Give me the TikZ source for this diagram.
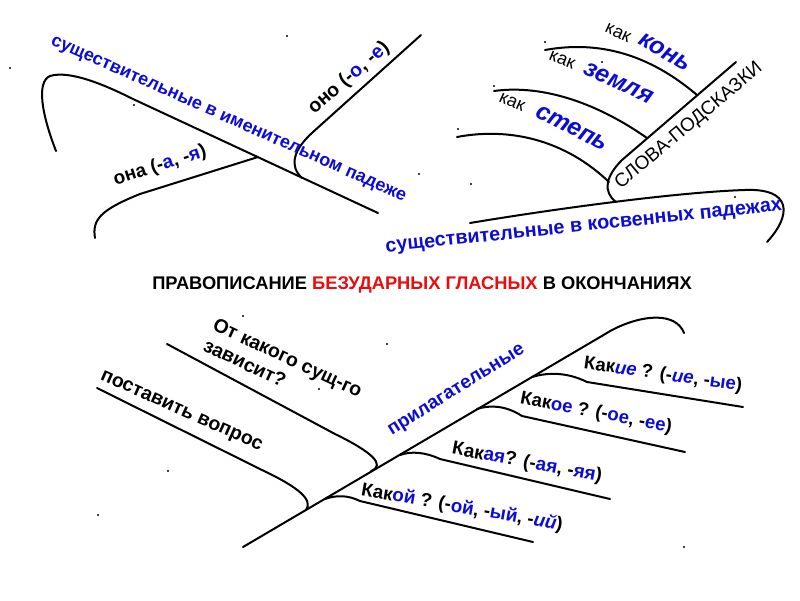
\documentclass[tikz,border=0pt]{standalone}
\usepackage{fontspec}
\setmainfont{Liberation Sans}
\definecolor{tblue}{RGB}{12,12,215}
\definecolor{tred}{RGB}{232,12,12}
\tikzset{
  bone/.style={line width=2pt, line cap=round, line join=round},
  txt/.style={inner sep=0pt, font=\bfseries\fontsize{19}{23}\selectfont},
  bluetxt/.style={txt, text=tblue},
  kak/.style={inner sep=0pt, font=\fontsize{18}{20}\selectfont},
  word/.style={inner sep=0pt, text=tblue, font=\bfseries\itshape\fontsize{24.5}{26}\selectfont},
  hint/.style={inner sep=0pt, font=\fontsize{19}{21}\selectfont},
  titletxt/.style={inner sep=0pt, font=\bfseries\fontsize{18.3}{20}\selectfont},
  speck/.style={fill=black}
}
\newcommand{\bl}[1]{\textcolor{tblue}{#1}}
\begin{document}
\begin{tikzpicture}[x=1pt,y=-1pt]
\useasboundingbox (0,0) rectangle (800,600);
\fill[white] (0,0) rectangle (800,600);

% ---------- top left: nominative ----------
\coordinate (nStart) at (56,151);
\coordinate (nBend) at (133,99);
\coordinate (nEnd) at (378,213);
\coordinate (jOna) at (258,157);
\coordinate (jOno) at (302,178);
\coordinate (onaStart) at (95,238);
\coordinate (onaBend) at (140,194);
\coordinate (onoBend) at (313,132);
\coordinate (onoEnd) at (421,35);
\draw[bone] (nStart) .. controls (42,115) and (36,82) .. (50,76) .. controls (70,70) and (105,85) .. (nBend) -- (nEnd);
\draw[bone] (onaStart) .. controls (92,220) and (100,210) .. (onaBend) -- (jOna);
\draw[bone] (jOno) .. controls (289,166) and (293,150) .. (onoBend) -- (onoEnd);
\node[bluetxt, font=\bfseries\fontsize{18}{22}\selectfont, rotate=-24] (nom) at (228,120) {существительные в именительном падеже};
\node[txt, rotate=18] (ona) at (160,166) {она (-\bl{а}, -\bl{я})};
\node[txt, font=\bfseries\fontsize{19.5}{23}\selectfont, rotate=41] (ono) at (349,78) {оно (-\bl{о}, -\bl{е})};

% ---------- top right: oblique cases ----------
\coordinate (kStart) at (470,223);
\coordinate (jSlova) at (616,202);
\coordinate (kTop) at (745,190);
\coordinate (kEnd) at (767,242);
\coordinate (sBend) at (622,160);
\coordinate (sEnd) at (736,62);
\coordinate (jSt) at (609,182);
\coordinate (jZe) at (647,138);
\coordinate (jKo) at (697,95);
\coordinate (stStart) at (457,137);
\coordinate (zeStart) at (494,91);
\coordinate (koStart) at (545,50);
\draw[bone] (kStart) .. controls (560,208) and (680,192) .. (kTop) .. controls (792,188) and (792,215) .. (kEnd);
\draw[bone] (jSlova) .. controls (603,192) and (605,177) .. (sBend) -- (sEnd);
\draw[bone] (stStart) .. controls (510,127) and (565,140) .. (jSt);
\draw[bone] (zeStart) .. controls (545,84) and (600,105) .. (jZe);
\draw[bone] (koStart) .. controls (600,40) and (650,55) .. (jKo);
\node[bluetxt, font=\bfseries\fontsize{19.8}{23}\selectfont, rotate=6] (kos) at (584,228) {существительные в косвенных падежах};
\node[hint, rotate=40] (slova) at (689,126) {СЛОВА-ПОДСКАЗКИ};
\node[kak, rotate=-24] (kak1) at (512,102) {как};
\node[word, rotate=-27] (step) at (572,128) {степь};
\node[kak, rotate=-22] (kak2) at (562,60) {как};
\node[word, rotate=-25] (zem) at (619,83) {земля};
\node[kak, rotate=-25] (kak3) at (618,33) {как};
\node[word, rotate=-30] (kon) at (665,52) {конь};

% ---------- title ----------
\node[titletxt] (title) at (422,285) {ПРАВОПИСАНИЕ \textcolor{tred}{БЕЗУДАРНЫХ ГЛАСНЫХ} В ОКОНЧАНИЯХ};

% ---------- bottom: adjectives ----------
\coordinate (aStart) at (243,547);
\coordinate (aBend) at (612,330);
\coordinate (aEnd) at (684,333);
\coordinate (j1) at (325,499);
\coordinate (j2) at (400,455);
\coordinate (j3) at (477,409);
\coordinate (j4) at (532,377);
\coordinate (jVop) at (306,510);
\coordinate (jSush) at (371,471);
\draw[bone] (aStart) -- (aBend) .. controls (643,314) and (676,312) .. (aEnd);
\draw[bone] (97,388) -- (262,470) .. controls (300,488) and (313,500) .. (jVop);
\draw[bone] (167,344) -- (335,434) .. controls (372,452) and (386,465) .. (jSush);
\draw[bone] (j4) .. controls (545,373) and (565,371) .. (587,382) -- (743,407);
\draw[bone] (j3) .. controls (489,405) and (505,405) .. (522,416) -- (685,452);
\draw[bone] (j2) .. controls (411,451) and (425,452) .. (440,459) -- (610,499);
\draw[bone] (j1) .. controls (336,495) and (348,495) .. (360,501) -- (533,542);
\node[bluetxt, rotate=32] (pril) at (457,391) {прилагательные};
\node[txt, font=\bfseries\fontsize{19.5}{23}\selectfont, rotate=-24] (vopr) at (181,412) {поставить вопрос};
\node[txt, font=\bfseries\fontsize{19.5}{23}\selectfont, rotate=-25, align=left] (sush) at (283,368) {От какого сущ-го\\зависит?};
\node[txt, font=\bfseries\fontsize{18.6}{23}\selectfont, rotate=-8] (kie) at (663,375) {Как\bl{\itshape ие} ? (-\bl{\itshape ие}, -\bl{ые})};
\node[txt, font=\bfseries\fontsize{18.6}{23}\selectfont, rotate=-11] (koe) at (596,413) {Как\bl{ое} ? (-\bl{ое}, -\bl{ее})};
\node[txt, rotate=-10.5] (kaya) at (527,463) {Как\bl{ая}? (-\bl{ая}, -\bl{яя})};
\node[txt, font=\bfseries\fontsize{18.8}{23}\selectfont, rotate=-10] (koy) at (462,508) {Как\bl{ой} ? (-\bl{ой}, -\bl{ый}, -\bl{\itshape ий})};

% ---------- stray specks ----------
\foreach \x/\y in {10/68, 287/36, 134/105, 419/174, 545/42, 602/62, 494/86, 458/129, 471/184, 735/197, 243/316, 387/344, 319/389, 168/471, 98/515, 684/547}
  \fill[speck] (\x,\y) circle (1.1);
\end{tikzpicture}
\end{document}
